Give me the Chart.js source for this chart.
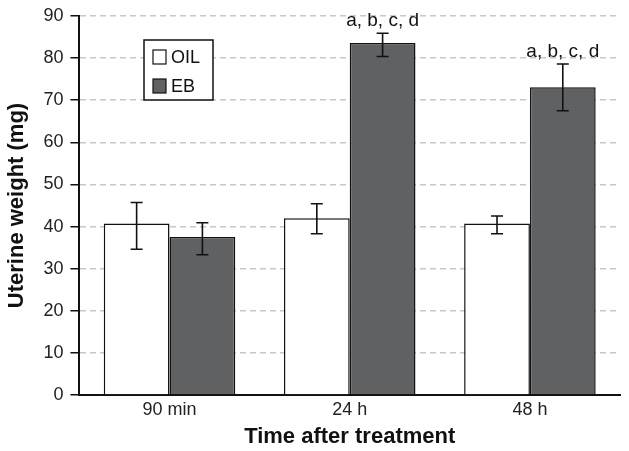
<!DOCTYPE html>
<html><head><meta charset="utf-8">
<script src="https://cdn.jsdelivr.net/npm/chart.js@4/dist/chart.umd.min.js"></script>
<style>html,body{margin:0;padding:0;background:#fff}#wrap{width:629px;height:451px}</style>
</head><body><div id="wrap"><canvas id="c" width="629" height="451"></canvas></div>
<script>
const categories = ["90 min", "24 h", "48 h"];
const oilValues = [40.7, 42.0, 40.7];
const oilErrUp = [45.7, 45.4, 42.5];
const oilErrDown = [34.6, 38.3, 38.3];
const ebValues = [37.5, 83.6, 73.1];
const ebErrUp = [40.9, 85.9, 78.6];
const ebErrDown = [33.3, 80.4, 67.5];
const ebLabels = ["", "a, b, c, d", "a, b, c, d"];
const yTicks = [0, 10, 20, 30, 40, 50, 60, 70, 80, 90];

const FONT = "'Liberation Sans', Arial, sans-serif";
const errHi = [oilErrUp, ebErrUp];
const errLo = [oilErrDown, ebErrDown];

const errPlugin = {
  id: 'errbars',
  afterDatasetsDraw(chart) {
    const ctx = chart.ctx, ys = chart.scales.y;
    chart.data.datasets.forEach((ds, di) => {
      const meta = chart.getDatasetMeta(di);
      meta.data.forEach((el, i) => {
        const yt = ys.getPixelForValue(errHi[di][i]);
        const yb = ys.getPixelForValue(errLo[di][i]);
        ctx.save();
        ctx.strokeStyle = '#111'; ctx.lineWidth = 1.6;
        ctx.beginPath();
        ctx.moveTo(el.x, yt); ctx.lineTo(el.x, yb);
        ctx.moveTo(el.x - 6, yt); ctx.lineTo(el.x + 6, yt);
        ctx.moveTo(el.x - 6, yb); ctx.lineTo(el.x + 6, yb);
        ctx.stroke();
        if (di === 1 && ebLabels[i]) {
          ctx.fillStyle = '#111';
          ctx.font = "19px " + FONT;
          ctx.textAlign = 'center'; ctx.textBaseline = 'bottom';
          ctx.fillText(ebLabels[i], el.x, yt - 3);
        }
        ctx.restore();
      });
    });
    // legend box
    const lx = 144, ly = 40, lw = 69, lh = 60;
    ctx.save();
    ctx.fillStyle = '#fff';
    ctx.fillRect(lx, ly, lw, lh);
    ctx.strokeStyle = '#111'; ctx.lineWidth = 1.5;
    ctx.strokeRect(lx, ly, lw, lh);
    ctx.font = "18px " + FONT; ctx.textBaseline = 'middle'; ctx.textAlign = 'left';
    chart.data.datasets.forEach((ds, di) => {
      const cy = ly + 17 + di * 29;
      ctx.fillStyle = ds.backgroundColor;
      ctx.fillRect(lx + 9, cy - 7, 13, 14);
      ctx.strokeStyle = '#111'; ctx.lineWidth = 1.2;
      ctx.strokeRect(lx + 9, cy - 7, 13, 14);
      ctx.fillStyle = '#111';
      ctx.fillText(ds.label, lx + 27, cy + 1);
    });
    ctx.restore();
  }
};

new Chart(document.getElementById('c'), {
  type: 'bar',
  data: {
    labels: categories,
    datasets: [
      { label: 'OIL', data: oilValues, backgroundColor: '#ffffff', borderColor: '#111', borderWidth: 1.5,
        categoryPercentage: 0.73, barPercentage: 1.0 },
      { label: 'EB', data: ebValues, backgroundColor: '#606163', borderColor: '#111', borderWidth: 1.5,
        categoryPercentage: 0.73, barPercentage: 1.0 }
    ]
  },
  options: {
    responsive: false, animation: false,
    layout: { padding: { top: 3, right: 9, left: 4, bottom: 3 } },
    plugins: { legend: { display: false }, tooltip: { enabled: false } },
    scales: {
      x: {
        grid: { display: false, drawTicks: false },
        border: { color: '#111', width: 2 },
        ticks: { color: '#222', font: { family: FONT, size: 18, lineHeight: 1.0 }, padding: 6 },
        title: { display: true, text: 'Time after treatment', color: '#111',
                 font: { family: FONT, size: 22, weight: 'bold', lineHeight: 1.0 }, padding: { top: 1, bottom: 0 } }
      },
      y: {
        min: 0, max: 90,
        afterBuildTicks(axis) { axis.ticks = yTicks.map(v => ({ value: v })); },
        grid: {
          color: ctx => ctx.tick && ctx.tick.value === 0 ? 'rgba(0,0,0,0)' : '#c8c8c8',
          lineWidth: 1.5, tickColor: '#111', tickLength: 9, tickWidth: 1.5, drawTicks: true
        },
        border: { color: '#111', width: 2, dash: [6, 4] },
        ticks: { color: '#222', font: { family: FONT, size: 18, lineHeight: 1.0 }, padding: 7 },
        title: { display: true, text: 'Uterine weight (mg)', color: '#111',
                 font: { family: FONT, size: 22, weight: 'bold' }, padding: { bottom: 6, top: 0 } }
      }
    }
  },
  plugins: [errPlugin]
});
</script></body></html>
